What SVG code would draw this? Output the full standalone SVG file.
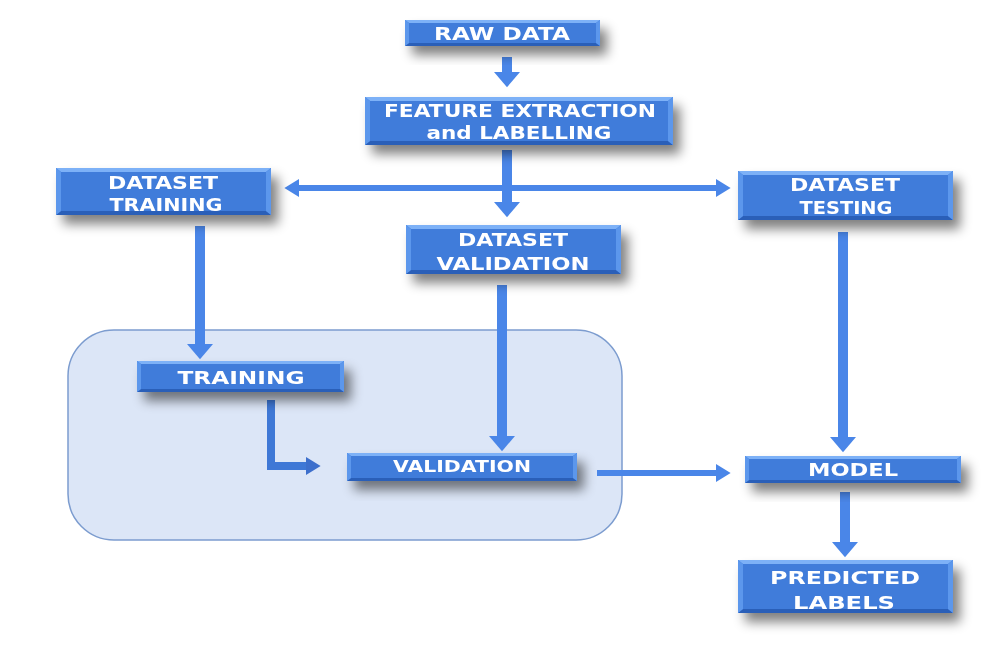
<svg xmlns="http://www.w3.org/2000/svg" width="991" height="653" viewBox="0 0 991 653">
<defs>
<style>
.box{fill:#3F7BDA;}
.bt{fill:#7DB1F7;}
.bb{fill:#2C5FB8;}
.bs{fill:#5C97EC;}
.t{font-family:"DejaVu Sans",Verdana,sans-serif;font-weight:bold;fill:#FFFFFF;font-size:17px;text-anchor:middle;}
.c{fill:none;stroke:#4A86E8;}
.w10{stroke-width:10;}
.w6{stroke-width:6;}
</style>
<filter id="sh" x="-20%" y="-50%" width="150%" height="220%">
<feGaussianBlur in="SourceAlpha" stdDeviation="6"/>
<feOffset dx="7" dy="9" result="b"/>
<feComponentTransfer><feFuncA type="linear" slope="0.5"/></feComponentTransfer>
<feMerge><feMergeNode/><feMergeNode in="SourceGraphic"/></feMerge>
</filter>
<marker id="ah" markerUnits="userSpaceOnUse" markerWidth="26" markerHeight="26" refX="0" refY="12" orient="auto" viewBox="0 0 14 24">
<path d="M0,0 L14,12 L0,24 Z" fill="#4A86E8"/>
</marker>
<marker id="ahs" markerUnits="userSpaceOnUse" markerWidth="16" markerHeight="18" refX="0" refY="8" orient="auto" viewBox="0 0 13 16">
<path d="M0,0 L13,8 L0,16 Z" fill="#4A86E8"/>
</marker>
<marker id="ahd" markerUnits="userSpaceOnUse" markerWidth="16" markerHeight="18" refX="0" refY="8" orient="auto" viewBox="0 0 13 16">
<path d="M0,0 L13,8 L0,16 Z" fill="#3D6FCC"/>
</marker>
</defs>
<rect x="0" y="0" width="991" height="653" fill="#FFFFFF"/>

<g id="container">
<rect x="68" y="330" width="554" height="210" rx="46" ry="46" fill="#DCE6F7" stroke="#7C9CCF" stroke-width="1.5"/>
</g>

<g id="connectors">
<path class="c w10" d="M507,57 V72" marker-end="url(#ah)"/>
<path class="c w10" d="M507,150 V202" marker-end="url(#ah)"/>
<path class="c w6" d="M300,188 H716" marker-end="url(#ahs)"/>
<path class="c w6" d="M300,188 H299" marker-end="url(#ahs)"/>
<path class="c w10" d="M200,226 V344" marker-end="url(#ah)"/>
<path class="c w10" d="M502,285 V436" marker-end="url(#ah)"/>
<path class="c w10" d="M843,232 V437" marker-end="url(#ah)"/>
<path fill="none" stroke="#3F78D6" stroke-width="8" d="M271,400 V466 H306" marker-end="url(#ahd)"/>
<path class="c w6" d="M597,473 H716" marker-end="url(#ahs)"/>
<path class="c w10" d="M845,492 V542" marker-end="url(#ah)"/>
</g>

<g id="raw-data" filter="url(#sh)">
<rect class="box" x="405" y="20" width="195" height="26"/>
<polygon class="bt" points="405,20 600,20 596,23 409,23"/>
<polygon class="bb" points="405,46 600,46 596,43 409,43"/>
<polygon class="bs" points="405,20 409,23 409,43 405,46"/>
<polygon class="bs" points="600,20 596,23 596,43 600,46"/>
<text class="t" x="502" y="40" textLength="136" lengthAdjust="spacingAndGlyphs">RAW DATA</text>
</g>

<g id="feature-extraction" filter="url(#sh)">
<rect class="box" x="365" y="97" width="308" height="48"/>
<polygon class="bt" points="365,97 673,97 668,101 370,101"/>
<polygon class="bb" points="365,145 673,145 668,141 370,141"/>
<polygon class="bs" points="365,97 370,101 370,141 365,145"/>
<polygon class="bs" points="673,97 668,101 668,141 673,145"/>
<text class="t" x="520" y="117" textLength="272" lengthAdjust="spacingAndGlyphs">FEATURE EXTRACTION</text>
<text class="t" x="519" y="139" textLength="185" lengthAdjust="spacingAndGlyphs">and LABELLING</text>
</g>

<g id="dataset-training" filter="url(#sh)">
<rect class="box" x="56" y="168" width="215" height="47"/>
<polygon class="bt" points="56,168 271,168 266,172 61,172"/>
<polygon class="bb" points="56,215 271,215 266,211 61,211"/>
<polygon class="bs" points="56,168 61,172 61,211 56,215"/>
<polygon class="bs" points="271,168 266,172 266,211 271,215"/>
<text class="t" x="163" y="189" textLength="110" lengthAdjust="spacingAndGlyphs">DATASET</text>
<text class="t" x="166" y="211" textLength="113" lengthAdjust="spacingAndGlyphs">TRAINING</text>
</g>

<g id="dataset-testing" filter="url(#sh)">
<rect class="box" x="738" y="171" width="215" height="49"/>
<polygon class="bt" points="738,171 953,171 948,175 743,175"/>
<polygon class="bb" points="738,220 953,220 948,216 743,216"/>
<polygon class="bs" points="738,171 743,175 743,216 738,220"/>
<polygon class="bs" points="953,171 948,175 948,216 953,220"/>
<text class="t" x="845" y="191" textLength="110" lengthAdjust="spacingAndGlyphs">DATASET</text>
<text class="t" x="846" y="214" textLength="93" lengthAdjust="spacingAndGlyphs">TESTING</text>
</g>

<g id="dataset-validation" filter="url(#sh)">
<rect class="box" x="406" y="225" width="215" height="49"/>
<polygon class="bt" points="406,225 621,225 616,229 411,229"/>
<polygon class="bb" points="406,274 621,274 616,270 411,270"/>
<polygon class="bs" points="406,225 411,229 411,270 406,274"/>
<polygon class="bs" points="621,225 616,229 616,270 621,274"/>
<text class="t" x="513" y="246" textLength="110" lengthAdjust="spacingAndGlyphs">DATASET</text>
<text class="t" x="513" y="270" textLength="153" lengthAdjust="spacingAndGlyphs">VALIDATION</text>
</g>

<g id="training" filter="url(#sh)">
<rect class="box" x="137" y="361" width="207" height="31"/>
<polygon class="bt" points="137,361 344,361 340,364 141,364"/>
<polygon class="bb" points="137,392 344,392 340,389 141,389"/>
<polygon class="bs" points="137,361 141,364 141,389 137,392"/>
<polygon class="bs" points="344,361 340,364 340,389 344,392"/>
<text class="t" x="241" y="384" style="font-size:18px;font-weight:600" textLength="127" lengthAdjust="spacingAndGlyphs">TRAINING</text>
</g>

<g id="validation" filter="url(#sh)">
<rect class="box" x="347" y="453" width="230" height="28"/>
<polygon class="bt" points="347,453 577,453 573,456 351,456"/>
<polygon class="bb" points="347,481 577,481 573,478 351,478"/>
<polygon class="bs" points="347,453 351,456 351,478 347,481"/>
<polygon class="bs" points="577,453 573,456 573,478 577,481"/>
<text class="t" x="462" y="472" style="font-size:15px" textLength="138" lengthAdjust="spacingAndGlyphs">VALIDATION</text>
</g>

<g id="model" filter="url(#sh)">
<rect class="box" x="745" y="456" width="216" height="27"/>
<polygon class="bt" points="745,456 961,456 957,459 749,459"/>
<polygon class="bb" points="745,483 961,483 957,480 749,480"/>
<polygon class="bs" points="745,456 749,459 749,480 745,483"/>
<polygon class="bs" points="961,456 957,459 957,480 961,483"/>
<text class="t" x="853" y="476" textLength="90" lengthAdjust="spacingAndGlyphs">MODEL</text>
</g>

<g id="predicted-labels" filter="url(#sh)">
<rect class="box" x="738" y="560" width="215" height="53"/>
<polygon class="bt" points="738,560 953,560 948,564 743,564"/>
<polygon class="bb" points="738,613 953,613 948,609 743,609"/>
<polygon class="bs" points="738,560 743,564 743,609 738,613"/>
<polygon class="bs" points="953,560 948,564 948,609 953,613"/>
<text class="t" x="845" y="584" style="font-size:18px" textLength="150" lengthAdjust="spacingAndGlyphs">PREDICTED</text>
<text class="t" x="844" y="609" style="font-size:18px" textLength="102" lengthAdjust="spacingAndGlyphs">LABELS</text>
</g>
</svg>
